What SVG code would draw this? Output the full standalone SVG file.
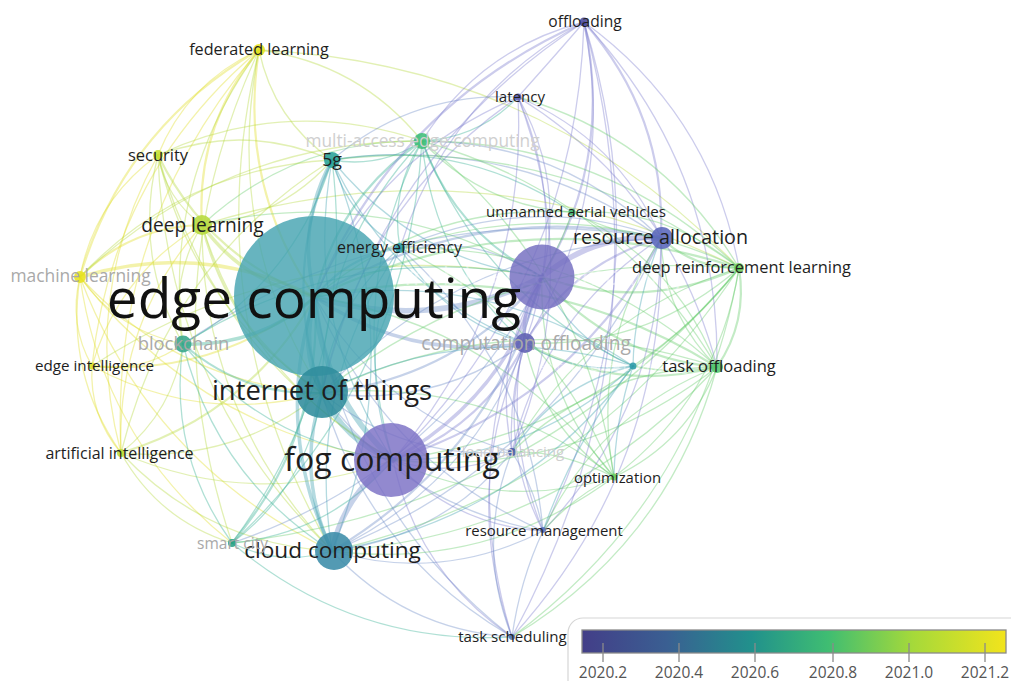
<svg xmlns="http://www.w3.org/2000/svg" width="1011" height="681" viewBox="0 0 1011 681">
<defs>
<style>
.e{fill:none;stroke-width:1.3;stroke-opacity:.38;stroke-linecap:round}
.w2{stroke-width:2.2}.w3{stroke-width:3.5}.w4{stroke-width:5.5}
.ey{stroke:#e0dd22}.eyg{stroke:#b3d83a}.eg{stroke:#62ca66}.et{stroke:#30ae90}.ec{stroke:#3a9eae}.eb{stroke:#6888c6}.ep{stroke:#7a78cc}
.n{fill-opacity:.88}
.nb{fill-opacity:.82}
.l{font-family:"Open Sans","Liberation Sans",sans-serif;fill:#1e1e1e;text-anchor:middle}
.fd{fill:#a9a9a9}.lf{fill:#cfcfcf}
.ghost{fill:#ffffff;fill-opacity:.45}
.tk{stroke:#8a8a8a;stroke-width:1.3}
.lg{font-family:"Open Sans","Liberation Sans",sans-serif;font-size:15.5px;fill:#555;text-anchor:middle}
</style>
<linearGradient id="vir" x1="0" y1="0" x2="1" y2="0">
<stop offset="0" stop-color="#433e88"/>
<stop offset="0.2" stop-color="#3a5f92"/>
<stop offset="0.4" stop-color="#21918c"/>
<stop offset="0.58" stop-color="#3fbd72"/>
<stop offset="0.78" stop-color="#a5d93a"/>
<stop offset="1" stop-color="#f2e41c"/>
</linearGradient>
</defs>
<rect width="1011" height="681" fill="#ffffff"/>
<g id="connectors">
<path class="e ey w2" d="M259,50 Q195.5,126.1 202,225"/>
<path class="e ey" d="M259,50 Q187.5,82.3 158,155"/>
<path class="e ey w2" d="M259,50 Q124.1,127.7 80,277"/>
<path class="e ey w2" d="M259,50 Q237.6,184.7 315,297"/>
<path class="e ey" d="M259,50 Q112.3,174.6 92,366"/>
<path class="e ey" d="M259,50 Q109.4,223.9 121,453"/>
<path class="e eyg" d="M259,50 Q162.2,181.8 183,344"/>
<path class="e eyg" d="M422,141 Q358.7,62.9 259,50"/>
<path class="e eyg" d="M259,50 Q273.5,119.6 332,160"/>
<path class="e eyg" d="M739,268 Q542.6,63 259,50"/>
<path class="e eyg" d="M259,50 Q221.9,234.1 322,393"/>
<path class="e eyg" d="M259,50 Q146.9,291.1 232,543"/>
<path class="e eyg" d="M259,50 Q195.3,315.1 332,551"/>
<path class="e eyg" d="M158,155 Q166,198.8 202,225"/>
<path class="e ey" d="M158,155 Q94.6,200.4 80,277"/>
<path class="e eyg w2" d="M158,155 Q208.1,257.4 315,297"/>
<path class="e eyg" d="M158,155 Q132.7,254.5 183,344"/>
<path class="e eyg" d="M158,155 Q192.4,306.8 322,393"/>
<path class="e ey" d="M158,155 Q79.9,296.6 121,453"/>
<path class="e eyg" d="M332,160 Q246,122.7 158,155"/>
<path class="e eyg" d="M422,141 Q287.2,95.2 158,155"/>
<path class="e eyg" d="M158,155 Q165.8,387.8 332,551"/>
<path class="e eyg" d="M158,155 Q214.5,354.5 393,460"/>
<path class="e eyg w3" d="M202,225 Q244.1,283.6 315,297"/>
<path class="e ey w2" d="M202,225 Q130.6,226.6 80,277"/>
<path class="e eyg w2" d="M202,225 Q228.4,333 322,393"/>
<path class="e eyg" d="M202,225 Q168.7,280.7 183,344"/>
<path class="e ey" d="M202,225 Q118.8,273.5 92,366"/>
<path class="e ey" d="M202,225 Q115.9,322.8 121,453"/>
<path class="e eg" d="M542,277 Q382.4,183 202,225"/>
<path class="e eyg" d="M739,268 Q479.1,139.1 202,225"/>
<path class="e eyg" d="M202,225 Q250.5,380.7 393,460"/>
<path class="e eyg" d="M202,225 Q280,218.5 332,160"/>
<path class="e eg" d="M422,141 Q295.2,139 202,225"/>
<path class="e eyg" d="M202,225 Q201.8,414 332,551"/>
<path class="e ey w3" d="M315,297 Q201.5,240 80,277"/>
<path class="e ey" d="M80,277 Q68.2,323.9 92,366"/>
<path class="e ey" d="M80,277 Q65.3,373.2 121,453"/>
<path class="e ey" d="M80,277 Q118.1,331.1 183,344"/>
<path class="e ey" d="M80,277 Q177.8,383.4 322,393"/>
<path class="e ey" d="M80,277 Q102.8,440.4 232,543"/>
<path class="e ey" d="M80,277 Q151.2,464.4 332,551"/>
<path class="e ey" d="M80,277 Q199.9,431.1 393,460"/>
<path class="e eyg" d="M332,160 Q182.6,168.1 80,277"/>
<path class="e eyg" d="M422,141 Q223.8,140.6 80,277"/>
<path class="e ey w2" d="M92,366 Q217.3,376.1 315,297"/>
<path class="e ey" d="M92,366 Q89.1,415.3 121,453"/>
<path class="e ey" d="M92,366 Q141.9,373.2 183,344"/>
<path class="e ey" d="M92,366 Q201.6,425.5 322,393"/>
<path class="e eyg" d="M542,277 Q299.2,231.5 92,366"/>
<path class="e eyg w2" d="M121,453 Q249.2,413.8 315,297"/>
<path class="e eyg" d="M121,453 Q233.5,463.2 322,393"/>
<path class="e eyg" d="M121,453 Q173.8,410.9 183,344"/>
<path class="e eyg" d="M121,453 Q206.9,544.2 332,551"/>
<path class="e eyg" d="M121,453 Q255.6,510.9 393,460"/>
<path class="e eyg" d="M121,453 Q158.5,520.2 232,543"/>
<path class="e eyg" d="M332,160 Q167.9,264.3 121,453"/>
<path class="e et w3" d="M183,344 Q258.4,346.9 315,297"/>
<path class="e et w2" d="M183,344 Q242.7,396.3 322,393"/>
<path class="e et" d="M183,344 Q264.8,444 393,460"/>
<path class="e et" d="M183,344 Q216.1,477.3 332,551"/>
<path class="e et" d="M183,344 Q167.7,453.3 232,543"/>
<path class="e et" d="M183,344 Q294.3,281.8 332,160"/>
<path class="e et" d="M542,277 Q349.1,238.7 183,344"/>
<path class="e eb" d="M661,238 Q400.8,195.4 183,344"/>
<path class="e et w2" d="M232,543 Q322.7,436.6 315,297"/>
<path class="e et" d="M232,543 Q307,486 322,393"/>
<path class="e et" d="M232,543 Q280.4,567 332,551"/>
<path class="e et" d="M232,543 Q329.1,533.7 393,460"/>
<path class="e et" d="M232,543 Q358.6,371.5 332,160"/>
<path class="e et" d="M232,543 Q407.4,380 422,141"/>
<path class="e et" d="M232,543 Q353.2,646 512,637"/>
<path class="e eb" d="M232,543 Q440.2,472 542,277"/>
<path class="e eg" d="M232,543 Q540.5,506.9 739,268"/>
<path class="e ec w3" d="M332,160 Q296.1,225.1 315,297"/>
<path class="e ec w2" d="M332,160 Q280.4,274.5 322,393"/>
<path class="e et" d="M332,160 Q380.8,168.5 422,141"/>
<path class="e ec" d="M332,160 Q413.6,260.5 542,277"/>
<path class="e ec" d="M332,160 Q302.5,322.2 393,460"/>
<path class="e ec" d="M332,551 Q410.2,355.5 332,160"/>
<path class="e eb" d="M661,238 Q512.1,133.2 332,160"/>
<path class="e ec" d="M332,160 Q348.4,217.6 400,248"/>
<path class="e et" d="M572,212 Q462.4,138 332,160"/>
<path class="e ec" d="M332,160 Q391.9,290.1 525,343"/>
<path class="e eg" d="M739,268 Q557.1,132.6 332,160"/>
<path class="e eb" d="M518,97 Q412.4,91.3 332,160"/>
<path class="e et w2" d="M422,141 Q337.3,197.6 315,297"/>
<path class="e et" d="M422,141 Q321.6,247 322,393"/>
<path class="e et w2" d="M422,141 Q454.8,233 542,277"/>
<path class="e eb" d="M661,238 Q560.9,141.7 422,141"/>
<path class="e eg" d="M739,268 Q605.9,141.1 422,141"/>
<path class="e et" d="M422,141 Q433.1,262.6 525,343"/>
<path class="e eg" d="M717,367 Q614.7,195 422,141"/>
<path class="e et" d="M422,141 Q478.8,138.2 518,97"/>
<path class="e ep" d="M584,22 Q479.2,49.1 422,141"/>
<path class="e et" d="M422,141 Q343.7,294.7 393,460"/>
<path class="e eg" d="M422,141 Q482.8,206.5 572,212"/>
<path class="e et" d="M422,141 Q482.5,295.7 633,366"/>
<path class="e eg" d="M614,477 Q585.2,270.6 422,141"/>
<path class="e et" d="M422,141 Q389.6,190.1 400,248"/>
<path class="e ec w2" d="M400,248 Q347.7,255.5 315,297"/>
<path class="e eb" d="M542,277 Q476.8,234.1 400,248"/>
<path class="e eb" d="M661,238 Q532.5,190.8 400,248"/>
<path class="e ec" d="M400,248 Q354.1,352.6 393,460"/>
<path class="e ec" d="M400,248 Q332,304.9 322,393"/>
<path class="e ec" d="M400,248 Q443.5,320.5 525,343"/>
<path class="e ec" d="M400,248 Q305.4,385.9 332,551"/>
<path class="e ec w4" d="M315,297 Q299.3,346.4 322,393"/>
<path class="e ec w4" d="M315,297 Q321.4,394.1 393,460"/>
<path class="e ec w3" d="M315,297 Q272.7,427.4 332,551"/>
<path class="e eb w4" d="M315,297 Q432.5,332.4 542,277"/>
<path class="e eb w2" d="M661,238 Q476.2,198.3 315,297"/>
<path class="e eb w3" d="M315,297 Q410.8,362 525,343"/>
<path class="e eg w2" d="M739,268 Q521.2,197.7 315,297"/>
<path class="e eg w2" d="M717,367 Q530,251.6 315,297"/>
<path class="e eb" d="M315,297 Q382.5,413.9 512,452"/>
<path class="e ep w2" d="M584,22 Q394.5,105.7 315,297"/>
<path class="e ep" d="M518,97 Q376.5,156.4 315,297"/>
<path class="e eg" d="M572,212 Q426.5,203.1 315,297"/>
<path class="e ec" d="M633,366 Q487.8,267.9 315,297"/>
<path class="e eg" d="M614,477 Q500.5,327.2 315,297"/>
<path class="e eb" d="M315,297 Q382.2,459.6 543,531"/>
<path class="e eb" d="M315,297 Q345.5,506.4 512,637"/>
<path class="e ec w4" d="M322,393 Q344.1,440.7 393,460"/>
<path class="e ec w3" d="M322,393 Q295.4,474 332,551"/>
<path class="e eb w2" d="M322,393 Q455.2,379 542,277"/>
<path class="e eb" d="M661,238 Q460.5,247.7 322,393"/>
<path class="e eb" d="M322,393 Q433.5,408.6 525,343"/>
<path class="e eb" d="M322,393 Q405.2,460.5 512,452"/>
<path class="e eb" d="M322,393 Q404.9,506.2 543,531"/>
<path class="e eb" d="M322,393 Q368.2,553 512,637"/>
<path class="e eg" d="M717,367 Q514.3,301 322,393"/>
<path class="e eb w4" d="M393,460 Q344.3,493.3 332,551"/>
<path class="e ep w3" d="M393,460 Q504.1,398.3 542,277"/>
<path class="e ep w2" d="M393,460 Q571.4,402.6 661,238"/>
<path class="e ep w2" d="M393,460 Q482.4,427.9 525,343"/>
<path class="e ep" d="M393,460 Q454.1,479.8 512,452"/>
<path class="e ep" d="M393,460 Q453.8,525.5 543,531"/>
<path class="e ep" d="M393,460 Q417.1,572.3 512,637"/>
<path class="e ep" d="M393,460 Q576.1,279.2 584,22"/>
<path class="e ep" d="M393,460 Q528.1,303.5 518,97"/>
<path class="e eg" d="M393,460 Q500.1,512.7 614,477"/>
<path class="e eg" d="M393,460 Q573.6,478.3 717,367"/>
<path class="e eg" d="M393,460 Q604.4,433.2 739,268"/>
<path class="e ec" d="M393,460 Q531.8,461 633,366"/>
<path class="e eb w2" d="M332,551 Q491.8,456 542,277"/>
<path class="e eb" d="M332,551 Q559.1,460.3 661,238"/>
<path class="e eb" d="M332,551 Q470.1,485.6 525,343"/>
<path class="e eb" d="M332,551 Q404.8,630 512,637"/>
<path class="e eb" d="M332,551 Q441.5,583.2 543,531"/>
<path class="e eb" d="M332,551 Q441.8,537.5 512,452"/>
<path class="e eg" d="M332,551 Q487.8,570.4 614,477"/>
<path class="e eg" d="M332,551 Q561.3,536 717,367"/>
<path class="e eg" d="M332,551 Q592.1,490.9 739,268"/>
<path class="e ec" d="M332,551 Q519.5,518.7 633,366"/>
<path class="e ep w4" d="M661,238 Q593.7,233.7 542,277"/>
<path class="e ep w3" d="M542,277 Q520.3,306.6 525,343"/>
<path class="e eg w2" d="M542,277 Q642.3,311.9 739,268"/>
<path class="e eg w2" d="M542,277 Q611.5,357 717,367"/>
<path class="e ep w2" d="M542,277 Q614,157.9 584,22"/>
<path class="e ep" d="M542,277 Q566,182.2 518,97"/>
<path class="e eg" d="M542,277 Q563,240 572,212"/>
<path class="e ec" d="M542,277 Q569.7,339.7 633,366"/>
<path class="e ep" d="M542,277 Q492,358.5 512,452"/>
<path class="e eg" d="M542,277 Q538,391.4 614,477"/>
<path class="e ep" d="M542,277 Q491.7,404.2 543,531"/>
<path class="e ep" d="M542,277 Q455,451 512,637"/>
<path class="e ep w2" d="M661,238 Q665.7,114.6 584,22"/>
<path class="e ep" d="M661,238 Q617.7,138.9 518,97"/>
<path class="e eg w2" d="M661,238 Q694,268.6 739,268"/>
<path class="e eg" d="M661,238 Q663.2,313.7 717,367"/>
<path class="e ep w2" d="M661,238 Q572,263.3 525,343"/>
<path class="e eg" d="M661,238 Q614,234 572,212"/>
<path class="e ep" d="M661,238 Q543.7,315.2 512,452"/>
<path class="e ep" d="M543,531 Q660.6,408.1 661,238"/>
<path class="e ep" d="M512,637 Q666.3,467.3 661,238"/>
<path class="e eg" d="M661,238 Q589.7,348.1 614,477"/>
<path class="e ec" d="M661,238 Q634,305 633,366"/>
<path class="e eg" d="M525,343 Q647,348.3 739,268"/>
<path class="e eg w2" d="M525,343 Q616.2,393.4 717,367"/>
<path class="e ep" d="M525,343 Q618.7,194.3 584,22"/>
<path class="e ep" d="M525,343 Q570.7,218.6 518,97"/>
<path class="e ec" d="M525,343 Q575,375 633,366"/>
<path class="e ep" d="M525,343 Q508,400 512,452"/>
<path class="e eg" d="M525,343 Q542.7,427.8 614,477"/>
<path class="e ep" d="M525,343 Q496.4,440.6 543,531"/>
<path class="e ep" d="M525,343 Q459.7,487.4 512,637"/>
<path class="e ep" d="M717,367 Q719.5,167.9 584,22"/>
<path class="e ep" d="M739,268 Q710.7,114 584,22"/>
<path class="e ep" d="M584,22 Q560,50 518,97"/>
<path class="e ep" d="M512,637 Q671,343.9 584,22"/>
<path class="e ep" d="M584,22 Q446.8,98.2 400,248"/>
<path class="e ep" d="M584,22 Q378.8,155.1 322,393"/>
<path class="e ep" d="M543,531 Q665.3,284.7 584,22"/>
<path class="e ep" d="M518,97 Q360.8,205.8 322,393"/>
<path class="e ep" d="M717,367 Q671.5,192.2 518,97"/>
<path class="e eg w2" d="M717,367 Q747.8,321.9 739,268"/>
<path class="e eg" d="M739,268 Q666.7,206.6 572,212"/>
<path class="e eg" d="M614,477 Q718.3,397.5 739,268"/>
<path class="e eg" d="M739,268 Q695,325 633,366"/>
<path class="e eg" d="M739,268 Q505.5,247.1 322,393"/>
<path class="e eg" d="M739,268 Q662.7,138.3 518,97"/>
<path class="e eg" d="M739,268 Q588.7,314.6 512,452"/>
<path class="e eg" d="M512,637 Q699.3,497.9 739,268"/>
<path class="e eg" d="M739,268 Q573.5,190.2 400,248"/>
<path class="e eg" d="M717,367 Q675,375 633,366"/>
<path class="e eg" d="M614,477 Q687.5,442.6 717,367"/>
<path class="e eg" d="M717,367 Q675.5,260.5 572,212"/>
<path class="e eg" d="M717,367 Q597.5,368.5 512,452"/>
<path class="e eg" d="M717,367 Q597.2,414.2 543,531"/>
<path class="e eg" d="M717,367 Q582.3,244.1 400,248"/>
<path class="e eg" d="M512,637 Q668.5,543 717,367"/>
<path class="e ec" d="M633,366 Q555.3,384.8 512,452"/>
<path class="e ec" d="M633,366 Q615,420 614,477"/>
<path class="e ec" d="M633,366 Q575,440 543,531"/>
<path class="e ec" d="M633,366 Q472.1,317.3 322,393"/>
<path class="e eg" d="M614,477 Q484.8,376.6 322,393"/>
<path class="e eg" d="M614,477 Q560,450 512,452"/>
<path class="e eg" d="M614,477 Q575,495 543,531"/>
<path class="e eg" d="M614,477 Q552.8,319.7 400,248"/>
<path class="e eb" d="M512,452 Q535,488 543,531"/>
<path class="e eb" d="M512,452 Q475,544.5 512,637"/>
<path class="e ep" d="M512,452 Q586,275.7 518,97"/>
<path class="e eb" d="M543,531 Q520,580 512,637"/>
<path class="e eb" d="M543,531 Q528.1,360.9 400,248"/>
</g>
<g id="nodes">
<g id="n-mobile-edge-computing"><text class="l ghost" x="542" y="285" font-size="25">mobile edge computing</text><circle class="nb" cx="542" cy="277" r="32.5" fill="#736cc0"/></g>
<g id="n-edge-computing"><circle class="nb" cx="314" cy="296" r="80" fill="#45a4b1"/><text class="l" x="314" y="318" font-size="55" style="fill:#111">edge computing</text></g>
<g id="n-fog-computing"><circle class="nb" cx="391" cy="460" r="37" fill="#7a6fc4"/><text class="l" x="392" y="471" font-size="32">fog computing</text></g>
<g id="n-internet-of-things"><circle class="n" cx="322" cy="392" r="26" fill="#2f8c9c"/><text class="l" x="322" y="400" font-size="27.4">internet of things</text></g>
<g id="n-cloud-computing"><circle class="n" cx="334" cy="551" r="19" fill="#3b8ca9"/><text class="l" x="332.5" y="558" font-size="22.6">cloud computing</text></g>
<g id="n-resource-allocation"><circle class="n" cx="662" cy="238" r="11" fill="#5a66bb"/><text class="l" x="660.5" y="244" font-size="19.7">resource allocation</text></g>
<g id="n-computation-offloading"><circle class="n" cx="525" cy="343" r="10" fill="#5e5fb3"/><text class="l fd" x="526" y="350" font-size="19.2">computation offloading</text></g>
<g id="n-deep-learning"><circle class="n" cx="202" cy="225" r="10" fill="#b6da3c"/><text class="l" x="202.5" y="232" font-size="19.1">deep learning</text></g>
<g id="n-blockchain"><circle class="n" cx="183" cy="344" r="8.5" fill="#35a68a"/><text class="l fd" x="183.5" y="350" font-size="18.4">blockchain</text></g>
<g id="n-multi-access-edge-computing"><circle class="n" cx="422" cy="141" r="8" fill="#3ebe78"/><text class="l lf" x="422.5" y="147" font-size="17.3">multi-access edge computing</text></g>
<g id="n-5g"><circle class="n" cx="332" cy="160" r="8" fill="#25a097"/><text class="l" x="332" y="166" font-size="17.7">5g</text></g>
<g id="n-machine-learning"><circle class="n" cx="80" cy="277" r="6" fill="#e8e21f"/><text class="l fd" x="80.5" y="282" font-size="17.4">machine learning</text></g>
<g id="n-security"><circle class="n" cx="158" cy="155" r="5" fill="#c5df30"/><text class="l" x="158" y="161" font-size="16.5">security</text></g>
<g id="n-federated-learning"><circle class="n" cx="259" cy="50" r="6" fill="#e6e21e"/><text class="l" x="259" y="55" font-size="16.2">federated learning</text></g>
<g id="n-edge-intelligence"><circle class="n" cx="92" cy="366" r="3.5" fill="#d8e02a"/><text class="l" x="94.5" y="371" font-size="15.2">edge intelligence</text></g>
<g id="n-artificial-intelligence"><circle class="n" cx="121" cy="453" r="4" fill="#bddc36"/><text class="l" x="119.5" y="459" font-size="16">artificial intelligence</text></g>
<g id="n-smart-city"><circle class="n" cx="232" cy="543" r="4" fill="#25a184"/><text class="l fd" x="232.5" y="549" font-size="15.5">smart city</text></g>
<g id="n-energy-efficiency"><circle class="n" cx="400" cy="248" r="5" fill="#2598a2"/><text class="l" x="399.5" y="253" font-size="16">energy efficiency</text></g>
<g id="n-unmanned-aerial-vehicles"><circle class="n" cx="572" cy="212" r="3.5" fill="#43bd76"/><text class="l" x="576" y="217" font-size="15.1">unmanned aerial vehicles</text></g>
<g id="n-latency"><circle class="n" cx="518" cy="97" r="3.5" fill="#5a5bae"/><text class="l" x="520" y="102" font-size="15.1">latency</text></g>
<g id="n-offloading"><circle class="n" cx="584" cy="22" r="4.5" fill="#4a499b"/><text class="l" x="585" y="27" font-size="15.6">offloading</text></g>
<g id="n-deep-reinforcement-learning"><circle class="n" cx="739" cy="268" r="5" fill="#6fcf5f"/><text class="l" x="741.5" y="273" font-size="16.4">deep reinforcement learning</text></g>
<g id="n-vehicular-edge-computing"><text class="l ghost" x="610" y="371" font-size="13">vehicular edge computing</text><circle class="n" cx="633" cy="366" r="3.5" fill="#2a9aa8"/></g>
<g id="n-task-offloading"><circle class="n" cx="717" cy="367" r="6" fill="#4ec46c"/><text class="l" x="719" y="372" font-size="16.5">task offloading</text></g>
<g id="n-optimization"><circle class="n" cx="614" cy="477" r="3.5" fill="#6acd5c"/><text class="l" x="617.5" y="483" font-size="14.9">optimization</text></g>
<g id="n-load-balancing"><circle class="n" cx="512" cy="452" r="4" fill="#4656a4"/><text class="l lf" x="513" y="457" font-size="15.2">load balancing</text></g>
<g id="n-resource-management"><circle class="n" cx="543" cy="530" r="3" fill="#5a70bb"/><text class="l" x="544" y="536" font-size="14.9">resource management</text></g>
<g id="n-task-scheduling"><circle class="n" cx="512" cy="637" r="3" fill="#5070ae"/><text class="l" x="512.5" y="642" font-size="15.1">task scheduling</text></g>
</g>
<g id="legend">
<rect x="568" y="618" width="470" height="90" rx="15" fill="#ffffff" stroke="#d6d6d6" stroke-width="1.2"/>
<rect x="582" y="630" width="424" height="23" fill="url(#vir)" stroke="#8a8a8a" stroke-width="1.3"/>
<line class="tk" x1="603" y1="643" x2="603" y2="662"/>
<line class="tk" x1="679" y1="643" x2="679" y2="662"/>
<line class="tk" x1="755" y1="643" x2="755" y2="662"/>
<line class="tk" x1="833" y1="643" x2="833" y2="662"/>
<line class="tk" x1="909" y1="643" x2="909" y2="662"/>
<line class="tk" x1="985" y1="643" x2="985" y2="662"/>
<text class="lg" x="603" y="678">2020.2</text>
<text class="lg" x="679" y="678">2020.4</text>
<text class="lg" x="755" y="678">2020.6</text>
<text class="lg" x="833" y="678">2020.8</text>
<text class="lg" x="909" y="678">2021.0</text>
<text class="lg" x="985" y="678">2021.2</text>
</g>
</svg>
